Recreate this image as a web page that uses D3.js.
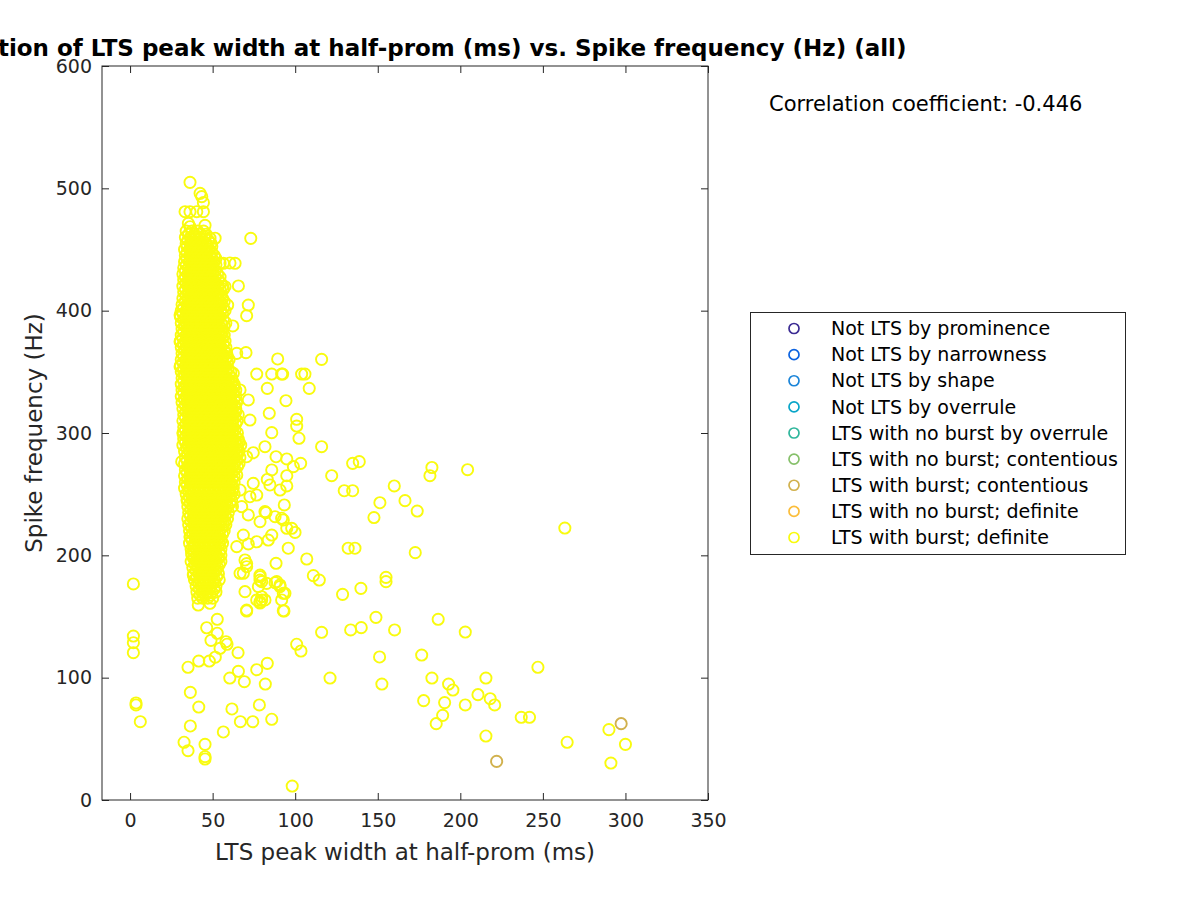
<!DOCTYPE html>
<html>
<head>
<meta charset="utf-8">
<script src="https://cdn.jsdelivr.net/npm/d3@7"></script>
<style>
  html, body { margin: 0; padding: 0; background: #ffffff; }
  svg { display: block; font-family: "DejaVu Sans", sans-serif; }
</style>
</head>
<body>
<svg id="chart" width="1200" height="900"></svg>
<script>
// ---------------- DATA ----------------
const titleText = "Correlation of LTS peak width at half-prom (ms) vs. Spike frequency (Hz) (all)";
const xLabelText = "LTS peak width at half-prom (ms)";
const yLabelText = "Spike frequency (Hz)";
const corrText = "Correlation coefficient: -0.446";

const xTicks = [0, 50, 100, 150, 200, 250, 300, 350];
const yTicks = [0, 100, 200, 300, 400, 500, 600];

const legendLabels = [
  "Not LTS by prominence",
  "Not LTS by narrowness",
  "Not LTS by shape",
  "Not LTS by overrule",
  "LTS with no burst by overrule",
  "LTS with no burst; contentious",
  "LTS with burst; contentious",
  "LTS with no burst; definite",
  "LTS with burst; definite"
];
const legendColors = ["#3b2b93", "#0b62e0", "#1a84d8", "#08a5c8", "#30b69c", "#86c06a", "#d1b14d", "#fbbd3a", "#f9fb0e"];

// "LTS with burst; contentious" points  [width ms, freq Hz]
const contentiousPoints = [[222.0, 31.6], [297.4, 62.4]];

// "LTS with burst; definite" individual points  [width ms, freq Hz]
const definitePoints = [
  [2.0,176.6],[2.0,134],[2.0,128.6],[2.0,120.4],[3.6,79.3],[3.6,77.7],[6.2,64],
  [41.3,159.4],[48.4,160.8],[52.8,147.7],[46.4,140.8],[52.8,136.3],[49.0,130.5],[58.1,129.4],[58.7,127.3],
  [54.5,124.0],[65.4,120.4],[70.6,154.5],[78.7,161.0],[93.2,154.5],[100.9,127.3],[103.5,121.8],[116.0,137.1],
  [133.6,139.0],[35.1,108.5],[41.6,113.6],[48.0,113.6],[51.6,116.7],[60.4,99.7],[65.6,105.2],[69.2,96.7],
  [76.7,106.5],[83.1,111.7],[81.9,94.8],[121.1,99.7],[36.5,88.0],[41.6,76.0],[36.5,60.5],[61.7,74.4],
  [66.8,64.0],[74.3,64.0],[78.3,77.7],[85.8,66.0],[56.5,55.6],[32.7,47.2],[35.1,40.3],[45.4,45.5],
  [45.4,35.4],[45.4,33.5],[98.2,11.4],
  [128.7,168.1],[140.0,140.9],[148.9,149.3],[160.2,139.0],[186.6,147.7],[203.0,137.3],[151.1,116.9],
  [176.6,118.5],[152.5,94.8],[182.8,99.7],[192.9,94.8],[195.5,89.9],[215.5,99.7],[247.0,108.5],[177.8,81.2],
  [190.5,79.6],[203.0,77.7],[210.7,86.1],[218.1,82.8],[220.8,77.7],[189.3,69.2],[185.4,62.4],[236.9,67.6],
  [241.9,67.6],[215.5,52.3],[264.7,47.2],[290.0,57.5],[300.0,45.5],[291.2,30.2],[263.3,222.3],
  [116.0,360.2],[92.4,348.2],[103.9,348.2],[105.9,348.2],[108.5,336.5],[94.4,326.4],[100.9,311.2],
  [100.9,305.7],[102.3,295.7],[116.0,288.8],[94.9,278.8],[98.9,272.5],[103.3,275.2],[94.9,265.1],
  [94.9,256.7],[122.1,265.1],[134.8,275.2],[138.8,276.6],[182.8,271.8],[181.6,265.1],[204.4,270.0],
  [129.7,252.8],[134.8,252.8],[160.0,256.7],[151.3,243.0],[166.5,244.7],[173.9,236.2],[147.7,230.9],
  [93.4,241.2],[92.8,228.9],[94.9,222.1],[99.9,218.7],[95.8,205.8],[132.1,205.8],[136.2,205.8],
  [172.7,202.2],[107.0,197.0],[111.0,183.4],[114.6,179.8],[155.0,182.0],[155.0,178.5],[139.8,173.0],
  [73.1,459.1],[63.6,438.7],[60.5,439],[65.6,420.2],[71.6,404.6],[70.6,395.9],[62.2,387.5],[70.2,365.7],
  [89.4,360.5],[76.7,348.2],[85.8,348.2],[91.8,348.2],[83.1,336.5],[84.3,316.1],[64.6,365.1],[62.5,348.8],
  [66.6,335.2],[71.6,327.0],[72.6,310.6],
  [36.3,504.9],[42.4,495.9],[43.4,493.2],[44.4,488.3],[33.3,480.9],[36.3,480.9],[40.4,480.9],[44.4,480.9],
  [35.3,471.4],[36.3,468.6],[45.4,469.8],[48.4,459.2],[51.5,459.2],[54.5,438.7],[56.5,438.7],[57.5,419.6],
  [59.1,404.6],
  [30.3,396.5],[30.3,374.6],[30.3,354.2],[32.3,299.8],[31.3,276.6],[34.7,245.2],[37.3,201.7],[38.3,183.9],
  [36.3,215.2],
  [85.8,300.3],[81.7,288.8],[70.6,280.6],[74.6,283.9],[88.4,280.6],[85.8,269.8],[83.1,262.0],[84.7,257.5],
  [90.8,253.4],[74.6,258.9],[81.7,235.7],[87.8,231.6],[91.8,230.3],[97.9,222.1],[85.8,216.6],[83.7,212.5],
  [76.7,211.1],[71.6,209.3],[88.4,193.5],[69.6,196.2],[70.6,190.7],[78.7,183.9],[79.7,178.5],[77.7,174.4],
  [87.8,177.6],[90.8,175.8],[92.8,169.0],[79.7,163.5],[81.7,163.5],[70.6,155.3],[92.8,154.7],[70.6,193.3],
  [68.6,185.3],[66.6,185.3],[69.6,170.3],[78.7,179.8],[79.7,166.2],[76.7,163.5],[88.8,178.5],[90.8,174.4],
  [93.8,169.0],[91.8,163.5],
  [64.6,265.7],[66.6,253.4],[72.6,247.9],[76.7,249.3],[67.6,239.8],[71.6,233],[78.7,227.5],[82.3,234.9],
  [68.6,216.6],[64.6,207.1],[78.7,182.5],[82.7,177.1],[78.7,162.1]
];

// dense core of "LTS with burst; definite": rows of [freq Hz, widths ms]
const clusterRows = [
  [465, [34, 37.5, 41, 44.5]],
  [462.5, [35.5, 39, 42.5, 46]],
  [460, [33.5, 36.5, 39.5, 42.5, 45.5]],
  [457.5, [35, 38, 41, 44, 47.5]],
  [455, [34, 37, 40, 43, 46, 49]],
  [452.5, [34.5, 37.5, 40.5, 43.5, 46.5, 49.5]],
  [450, [33, 36, 39, 42, 45, 48]],
  [447.5, [34.5, 37.5, 40.5, 43.5, 46.5, 49.5]],
  [445, [33.5, 36.5, 39.5, 42.5, 45.5, 48.5, 51]],
  [442.5, [34.5, 37.5, 40.5, 43.5, 46.5, 49.5, 52]],
  [440, [33, 36, 39, 42, 45, 48, 51]],
  [437.5, [34, 37, 40, 43, 46, 49, 52]],
  [435, [32.5, 35.5, 38.5, 41.5, 44.5, 47.5, 50.5]],
  [432.5, [33.5, 36.5, 39.5, 42.5, 45.5, 48.5, 51.5]],
  [430, [32, 35, 38, 41, 44, 47, 50, 53]],
  [427.5, [33.5, 36.5, 39.5, 42.5, 45.5, 48.5, 51.5, 54.5]],
  [425, [32.5, 35.5, 38.5, 41.5, 44.5, 47.5, 50.5, 53.5]],
  [422.5, [34, 37, 40, 43, 46, 49, 52, 55]],
  [420, [32, 35, 38, 41, 44, 47, 50, 53, 56]],
  [417.5, [33.5, 36.5, 39.5, 42.5, 45.5, 48.5, 51.5, 54.5, 56.5]],
  [415, [32.5, 35.5, 38.5, 41.5, 44.5, 47.5, 50.5, 53.5]],
  [412.5, [34, 37, 40, 43, 46, 49, 52, 55]],
  [410, [32, 35, 38, 41, 44, 47, 50, 53, 56]],
  [407.5, [33.5, 36.5, 39.5, 42.5, 45.5, 48.5, 51.5, 54.5, 57]],
  [405, [31.5, 34.5, 37.5, 40.5, 43.5, 46.5, 49.5, 52.5, 55.5]],
  [402.5, [32.5, 35.5, 38.5, 41.5, 44.5, 47.5, 50.5, 53.5, 56.5]],
  [400, [31, 34, 37, 40, 43, 46, 49, 52, 55, 57.5]],
  [397.5, [32, 35, 38, 41, 44, 47, 50, 53, 56]],
  [395, [30.5, 33.5, 36.5, 39.5, 42.5, 45.5, 48.5, 51.5, 54.5]],
  [392.5, [32.5, 35.5, 38.5, 41.5, 44.5, 47.5, 50.5, 53.5, 56.5]],
  [390, [31, 34, 37, 40, 43, 46, 49, 52, 55, 58]],
  [387.5, [33, 36, 39, 42, 45, 48, 51, 54, 57]],
  [385, [31.5, 34.5, 37.5, 40.5, 43.5, 46.5, 49.5, 52.5, 55.5]],
  [382.5, [32.5, 35.5, 38.5, 41.5, 44.5, 47.5, 50.5, 53.5, 56]],
  [380, [31, 34, 37, 40, 43, 46, 49, 52, 55, 57]],
  [377.5, [32, 35, 38, 41, 44, 47, 50, 53, 56]],
  [375, [30.5, 33.5, 36.5, 39.5, 42.5, 45.5, 48.5, 51.5, 54.5, 57.5]],
  [372.5, [32.5, 35.5, 38.5, 41.5, 44.5, 47.5, 50.5, 53.5, 56.5]],
  [370, [31, 34, 37, 40, 43, 46, 49, 52, 55, 58]],
  [367.5, [33, 36, 39, 42, 45, 48, 51, 54, 57]],
  [365, [31.5, 34.5, 37.5, 40.5, 43.5, 46.5, 49.5, 52.5, 55.5, 58.5]],
  [362.5, [32.5, 35.5, 38.5, 41.5, 44.5, 47.5, 50.5, 53.5, 56.5, 59]],
  [360, [31, 34, 37, 40, 43, 46, 49, 52, 55, 58, 60]],
  [357.5, [32, 35, 38, 41, 44, 47, 50, 53, 56, 59]],
  [355, [30.5, 33.5, 36.5, 39.5, 42.5, 45.5, 48.5, 51.5, 54.5, 57.5]],
  [352.5, [32.5, 35.5, 38.5, 41.5, 44.5, 47.5, 50.5, 53.5, 56.5, 59.5]],
  [350, [31, 34, 37, 40, 43, 46, 49, 52, 55, 58, 61]],
  [347.5, [33, 36, 39, 42, 45, 48, 51, 54, 57, 60]],
  [345, [31.5, 34.5, 37.5, 40.5, 43.5, 46.5, 49.5, 52.5, 55.5, 58.5, 61.5]],
  [342.5, [32.5, 35.5, 38.5, 41.5, 44.5, 47.5, 50.5, 53.5, 56.5, 59.5, 62]],
  [340, [31, 34, 37, 40, 43, 46, 49, 52, 55, 58, 61, 63]],
  [337.5, [33, 36, 39, 42, 45, 48, 51, 54, 57, 60, 63]],
  [335, [31.5, 34.5, 37.5, 40.5, 43.5, 46.5, 49.5, 52.5, 55.5, 58.5, 61.5, 64]],
  [332.5, [32.5, 35.5, 38.5, 41.5, 44.5, 47.5, 50.5, 53.5, 56.5, 59.5, 62.5]],
  [330, [31, 34, 37, 40, 43, 46, 49, 52, 55, 58, 61, 64]],
  [327.5, [33, 36, 39, 42, 45, 48, 51, 54, 57, 60, 63]],
  [325, [31.5, 34.5, 37.5, 40.5, 43.5, 46.5, 49.5, 52.5, 55.5, 58.5, 61.5, 64.5]],
  [322.5, [33.5, 36.5, 39.5, 42.5, 45.5, 48.5, 51.5, 54.5, 57.5, 60.5, 63.5]],
  [320, [32, 35, 38, 41, 44, 47, 50, 53, 56, 59, 62, 64]],
  [317.5, [34, 37, 40, 43, 46, 49, 52, 55, 58, 61, 64]],
  [315, [32.5, 35.5, 38.5, 41.5, 44.5, 47.5, 50.5, 53.5, 56.5, 59.5, 62.5, 65.5]],
  [312.5, [33.5, 36.5, 39.5, 42.5, 45.5, 48.5, 51.5, 54.5, 57.5, 60.5, 63.5]],
  [310, [32, 35, 38, 41, 44, 47, 50, 53, 56, 59, 62, 65]],
  [307.5, [34, 37, 40, 43, 46, 49, 52, 55, 58, 61, 64]],
  [305, [32.5, 35.5, 38.5, 41.5, 44.5, 47.5, 50.5, 53.5, 56.5, 59.5, 62.5]],
  [302.5, [33.5, 36.5, 39.5, 42.5, 45.5, 48.5, 51.5, 54.5, 57.5, 60.5, 63.5]],
  [300, [32, 35, 38, 41, 44, 47, 50, 53, 56, 59, 62, 65]],
  [297.5, [34, 37, 40, 43, 46, 49, 52, 55, 58, 61, 64]],
  [295, [32.5, 35.5, 38.5, 41.5, 44.5, 47.5, 50.5, 53.5, 56.5, 59.5, 62.5, 65.5]],
  [292.5, [33.5, 36.5, 39.5, 42.5, 45.5, 48.5, 51.5, 54.5, 57.5, 60.5, 63.5, 66]],
  [290, [32, 35, 38, 41, 44, 47, 50, 53, 56, 59, 62, 65, 67]],
  [287.5, [34.5, 37.5, 40.5, 43.5, 46.5, 49.5, 52.5, 55.5, 58.5, 61.5, 64.5]],
  [285, [33, 36, 39, 42, 45, 48, 51, 54, 57, 60, 63, 66]],
  [282.5, [35, 38, 41, 44, 47, 50, 53, 56, 59, 62, 65]],
  [280, [33.5, 36.5, 39.5, 42.5, 45.5, 48.5, 51.5, 54.5, 57.5, 60.5, 63.5, 66.5]],
  [277.5, [34.5, 37.5, 40.5, 43.5, 46.5, 49.5, 52.5, 55.5, 58.5, 61.5, 64.5]],
  [275, [33, 36, 39, 42, 45, 48, 51, 54, 57, 60, 63, 66]],
  [272.5, [35, 38, 41, 44, 47, 50, 53, 56, 59, 62, 65]],
  [270, [33.5, 36.5, 39.5, 42.5, 45.5, 48.5, 51.5, 54.5, 57.5, 60.5, 63.5]],
  [267.5, [34.5, 37.5, 40.5, 43.5, 46.5, 49.5, 52.5, 55.5, 58.5, 61.5]],
  [265, [33, 36, 39, 42, 45, 48, 51, 54, 57, 60, 63]],
  [262.5, [35, 38, 41, 44, 47, 50, 53, 56, 59, 62]],
  [260, [33.5, 36.5, 39.5, 42.5, 45.5, 48.5, 51.5, 54.5, 57.5, 60.5, 63]],
  [257.5, [34.5, 37.5, 40.5, 43.5, 46.5, 49.5, 52.5, 55.5, 58.5, 61.5]],
  [255, [33, 36, 39, 42, 45, 48, 51, 54, 57, 60, 62.5]],
  [252.5, [35.5, 38.5, 41.5, 44.5, 47.5, 50.5, 53.5, 56.5, 59.5, 62]],
  [250, [34, 37, 40, 43, 46, 49, 52, 55, 58, 61, 63]],
  [247.5, [36, 39, 42, 45, 48, 51, 54, 57, 60]],
  [245, [34.5, 37.5, 40.5, 43.5, 46.5, 49.5, 52.5, 55.5, 58.5, 61.5]],
  [242.5, [36.5, 39.5, 42.5, 45.5, 48.5, 51.5, 54.5, 57.5, 60.5]],
  [240, [35, 38, 41, 44, 47, 50, 53, 56, 59, 62]],
  [237.5, [37, 40, 43, 46, 49, 52, 55, 58]],
  [235, [35.5, 38.5, 41.5, 44.5, 47.5, 50.5, 53.5, 56.5, 59.5]],
  [232.5, [36.5, 39.5, 42.5, 45.5, 48.5, 51.5, 54.5, 57.5]],
  [230, [35, 38, 41, 44, 47, 50, 53, 56, 59]],
  [227.5, [37, 40, 43, 46, 49, 52, 55, 57.5]],
  [225, [35.5, 38.5, 41.5, 44.5, 47.5, 50.5, 53.5, 56.5, 58]],
  [222.5, [37.5, 40.5, 43.5, 46.5, 49.5, 52.5, 55.5]],
  [220, [36, 39, 42, 45, 48, 51, 54, 57]],
  [217.5, [38, 41, 44, 47, 50, 53, 56]],
  [215, [36.5, 39.5, 42.5, 45.5, 48.5, 51.5, 54.5]],
  [212.5, [37.5, 40.5, 43.5, 46.5, 49.5, 52.5, 55]],
  [210, [36, 39, 42, 45, 48, 51, 54, 56]],
  [207.5, [38.5, 41.5, 44.5, 47.5, 50.5, 53.5]],
  [205, [37, 40, 43, 46, 49, 52, 55]],
  [202.5, [39, 42, 45, 48, 51, 54]],
  [200, [37.5, 40.5, 43.5, 46.5, 49.5, 52.5, 55]],
  [197.5, [38.5, 41.5, 44.5, 47.5, 50.5, 53.5]],
  [195, [37, 40, 43, 46, 49, 52, 55]],
  [192.5, [39.5, 42.5, 45.5, 48.5, 51.5, 54]],
  [190, [38, 41, 44, 47, 50, 53]],
  [187.5, [40, 43, 46, 49, 52]],
  [185, [38.5, 41.5, 44.5, 47.5, 50.5, 53.5]],
  [182.5, [40.5, 43.5, 46.5, 49.5, 52.5]],
  [180, [39, 42, 45, 48, 51, 54]],
  [177.5, [41.5, 44.5, 47.5, 50.5]],
  [175, [40, 43, 46, 49, 52]],
  [172.5, [42, 45, 48, 51]],
  [170, [40.5, 43.5, 46.5, 49.5, 52]],
  [167.5, [42.5, 45.5, 48.5]],
  [165, [41, 44, 47, 50]]
];

// ---------------- DRAW ----------------
const svg = d3.select("#chart");
const axColor = "#262626";
const plot = { left: 102, right: 708, top: 66, bottom: 800 };

const x = d3.scaleLinear().domain([-17, 350]).range([plot.left, plot.right]);
const y = d3.scaleLinear().domain([0, 600]).range([plot.bottom, plot.top]);

svg.append("rect").attr("width", 1200).attr("height", 900).attr("fill", "#ffffff");

const definiteAll = definitePoints.slice();
clusterRows.forEach(([fy, xs]) => xs.forEach(fx => definiteAll.push([fx, fy])));

const gPts = svg.append("g");
gPts.selectAll("circle.def").data(definiteAll).join("circle")
  .attr("class", "def")
  .attr("cx", d => x(d[0])).attr("cy", d => y(d[1])).attr("r", 5.6)
  .attr("fill", "none").attr("stroke", legendColors[8]).attr("stroke-width", 1.9);
gPts.selectAll("circle.cont").data(contentiousPoints).join("circle")
  .attr("class", "cont")
  .attr("cx", d => x(d[0])).attr("cy", d => y(d[1])).attr("r", 5.6)
  .attr("fill", "none").attr("stroke", legendColors[6]).attr("stroke-width", 1.9);

// axes
const tickLen = 7;
const fontTick = 19;
const xAxisB = d3.axisBottom(x).tickValues(xTicks).tickSizeInner(-tickLen).tickSizeOuter(0).tickPadding(14);
const xAxisT = d3.axisTop(x).tickValues(xTicks).tickSizeInner(-tickLen).tickSizeOuter(0).tickFormat("");
const yAxisL = d3.axisLeft(y).tickValues(yTicks).tickSizeInner(-tickLen).tickSizeOuter(0).tickPadding(10);
const yAxisR = d3.axisRight(y).tickValues(yTicks).tickSizeInner(-tickLen).tickSizeOuter(0).tickFormat("");

function styleAxis(g) {
  g.select(".domain").remove();
  g.selectAll("line").attr("stroke", axColor).attr("stroke-width", 1);
  g.selectAll("text").attr("fill", axColor).attr("font-size", fontTick).attr("font-family", "DejaVu Sans");
}
svg.append("g").attr("transform", `translate(0,${plot.bottom})`).call(xAxisB).call(styleAxis);
svg.append("g").attr("transform", `translate(0,${plot.top})`).call(xAxisT).call(styleAxis);
svg.append("g").attr("transform", `translate(${plot.left},0)`).call(yAxisL).call(styleAxis);
svg.append("g").attr("transform", `translate(${plot.right},0)`).call(yAxisR).call(styleAxis);

svg.append("rect")
  .attr("x", plot.left).attr("y", plot.top)
  .attr("width", plot.right - plot.left).attr("height", plot.bottom - plot.top)
  .attr("fill", "none").attr("stroke", axColor).attr("stroke-width", 1);

// labels
svg.append("text").attr("x", (plot.left + plot.right) / 2).attr("y", 860)
  .attr("text-anchor", "middle").attr("font-size", 23).attr("fill", axColor).text(xLabelText);
svg.append("text").attr("transform", `translate(42,${(plot.top + plot.bottom) / 2}) rotate(-90)`)
  .attr("text-anchor", "middle").attr("font-size", 23).attr("fill", axColor).text(yLabelText);
svg.append("text").attr("x", (plot.left + plot.right) / 2).attr("y", 56)
  .attr("text-anchor", "middle").attr("font-size", 23).attr("font-weight", "bold").attr("fill", "#000000").text(titleText);
svg.append("text").attr("x", 769).attr("y", 111)
  .attr("font-size", 21).attr("fill", "#000000").text(corrText);

// legend
const lg = svg.append("g");
lg.append("rect").attr("x", 750.5).attr("y", 312.5).attr("width", 375).attr("height", 242)
  .attr("fill", "#ffffff").attr("stroke", axColor).attr("stroke-width", 1);
const ly = d3.scalePoint().domain(d3.range(legendLabels.length)).range([328.5, 537.5]);
legendLabels.forEach((lab, i) => {
  lg.append("circle").attr("cx", 794).attr("cy", ly(i)).attr("r", 5)
    .attr("fill", "none").attr("stroke", legendColors[i]).attr("stroke-width", 1.7);
  lg.append("text").attr("x", 831).attr("y", ly(i)).attr("dy", "0.35em")
    .attr("font-size", 19).attr("fill", "#000000").text(lab);
});
</script>
</body>
</html>
